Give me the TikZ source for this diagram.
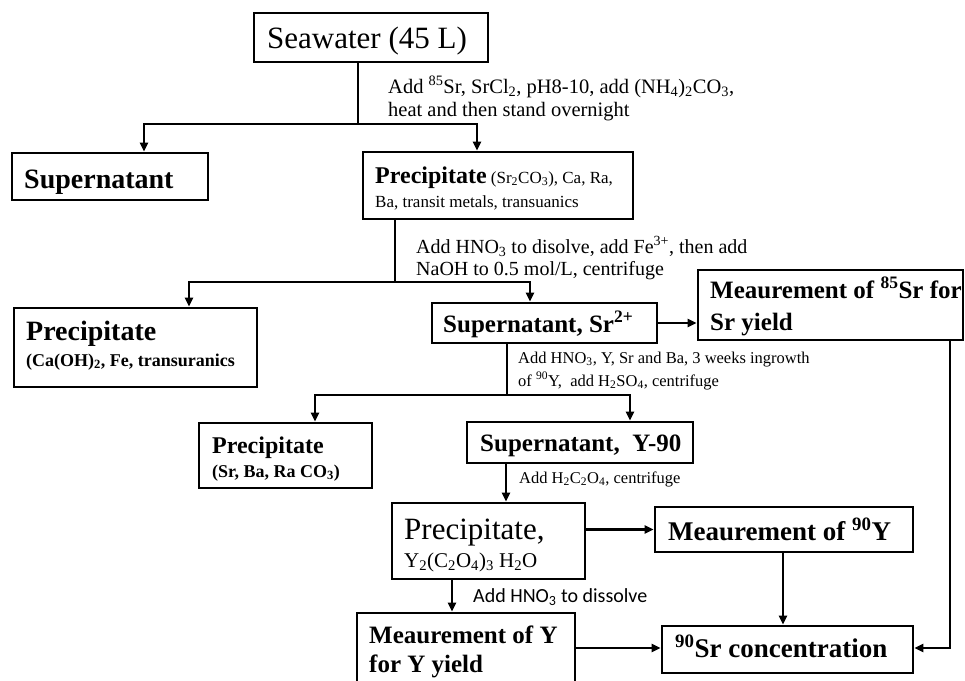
\documentclass[tikz,border=0pt]{standalone}
\usepackage{fontspec}
\setmainfont{Liberation Serif}
\newfontfamily\calfont{Carlito}
\usetikzlibrary{arrows.meta}
\newcommand{\fs}[1]{\fontsize{#1}{#1}\selectfont}
\tikzset{
  box/.style={draw, line width=2.7pt, inner sep=0pt},
  txt/.style={anchor=base west, inner sep=0pt},
  conn/.style={line width=2.2pt},
  arr/.style={line width=2.2pt, -{Triangle[length=9pt,width=8pt]}},
}
\begin{document}
\begin{tikzpicture}[x=1pt,y=-1pt]
\useasboundingbox (0,0) rectangle (965,680);
% boxes
\node[box, minimum width=234pt, minimum height=49pt] (sea) at (371,37.5) {};
\node[box, minimum width=196pt, minimum height=47pt] (sup1) at (110,176.5) {};
\node[box, minimum width=270pt, minimum height=67pt] (pre1) at (498,185.5) {};
\node[box, minimum width=243pt, minimum height=79pt] (pre2) at (135.5,347.5) {};
\node[box, minimum width=225pt, minimum height=40pt] (sup2) at (544.5,323) {};
\node[box, minimum width=265pt, minimum height=70pt] (mea1) at (830.5,305) {};
\node[box, minimum width=173pt, minimum height=65pt] (pre3) at (285.5,455.5) {};
\node[box, minimum width=226pt, minimum height=41pt] (sup3) at (580,442.5) {};
\node[box, minimum width=193pt, minimum height=76pt] (pre4) at (488.5,541) {};
\node[box, minimum width=258pt, minimum height=45pt] (mea2) at (784,529.5) {};
\node[box, minimum width=218pt, minimum height=77pt] (mea3) at (466,651.5) {};
\node[box, minimum width=251pt, minimum height=47pt] (conc) at (787.5,649.5) {};
% texts
\node[txt] (tsea) at (267,48) {\fs{31}Seawater (45 L)};
\node[txt] (l1a) at (388,93) {\fs{20.5}Add \textsuperscript{85}Sr, SrCl\textsubscript{2}, pH8-10, add (NH\textsubscript{4})\textsubscript{2}CO\textsubscript{3},};
\node[txt] (l1b) at (388,116) {\fs{20.5}heat and then stand overnight};
\node[txt] (tsup1) at (24,188) {\fs{28}\bfseries Supernatant};
\node[txt] (tpre1a) at (375,183) {\fs{24}\bfseries Precipitate\fs{17}\mdseries\ (Sr\textsubscript{2}CO\textsubscript{3}), Ca, Ra,};
\node[txt] (tpre1b) at (375,207) {\fs{17}Ba, transit metals, transuanics};
\node[txt] (l2a) at (416,253) {\fs{20}Add HNO\textsubscript{3} to disolve, add Fe\textsuperscript{3+}, then add};
\node[txt] (l2b) at (416,275) {\fs{20}NaOH to 0.5 mol/L, centrifuge};
\node[txt] (tpre2a) at (26,340) {\fs{28}\bfseries Precipitate};
\node[txt] (tpre2b) at (26,366) {\fs{18}\bfseries (Ca(OH)\textsubscript{2}, Fe, transuranics};
\node[txt] (tsup2) at (443,332) {\fs{25}\bfseries Supernatant, Sr\textsuperscript{2+}};
\node[txt] (tmea1a) at (710,298) {\fs{25}\bfseries Meaurement of \textsuperscript{85}Sr for};
\node[txt] (tmea1b) at (710,330) {\fs{25}\bfseries Sr yield};
\node[txt] (l3a) at (518,363) {\fs{16.5}Add HNO\textsubscript{3}, Y, Sr and Ba, 3 weeks ingrowth};
\node[txt] (l3b) at (518,386) {\fs{16.5}of \textsuperscript{90}Y,\ \ add H\textsubscript{2}SO\textsubscript{4}, centrifuge};
\node[txt] (tpre3a) at (212,453) {\fs{24}\bfseries Precipitate};
\node[txt] (tpre3b) at (212,477) {\fs{18}\bfseries (Sr, Ba, Ra CO\textsubscript{3})};
\node[txt] (tsup3) at (480,451) {\fs{25}\bfseries Supernatant,\ \ Y-90};
\node[txt] (l4) at (519,483) {\fs{16.5}Add H\textsubscript{2}C\textsubscript{2}O\textsubscript{4}, centrifuge};
\node[txt] (tpre4a) at (404,539) {\fs{31}Precipitate,};
\node[txt] (tpre4b) at (404,567) {\fs{21}Y\textsubscript{2}(C\textsubscript{2}O\textsubscript{4})\textsubscript{3} H\textsubscript{2}O};
\node[txt] (tmea2) at (668,540) {\fs{27}\bfseries Meaurement of \textsuperscript{90}Y};
\node[txt] (l5) at (473,602) {\fs{20}\calfont Add HNO\textsubscript{3} to dissolve};
\node[txt] (tmea3a) at (369,643) {\fs{25}\bfseries Meaurement of Y};
\node[txt] (tmea3b) at (369,672) {\fs{25}\bfseries for Y yield};
\node[txt] (tconc) at (675,657) {\fs{27}\bfseries \textsuperscript{90}Sr concentration};
% junction coordinates
\coordinate (j1) at (358,124);
\coordinate (j1l) at (144,124);
\coordinate (j1r) at (477,124);
\coordinate (j2) at (395,282);
\coordinate (j2l) at (189,282);
\coordinate (j2r) at (530,282);
\coordinate (j3) at (507,395);
\coordinate (j3l) at (315,395);
\coordinate (j3r) at (630,395);
\coordinate (x4) at (506,0);
\coordinate (x5) at (452,0);
\coordinate (x6) at (783,0);
\coordinate (x7) at (950,0);
\coordinate (y8) at (0,648);
% connectors
\draw[conn] (sea.south -| j1) -- (j1);
\draw[arr] (j1) -- (j1l) -- (sup1.north -| j1l);
\draw[arr] (j1) -- (j1r) -- (pre1.north -| j1r);
\draw[conn] (pre1.south -| j2) -- (j2);
\draw[arr] (j2) -- (j2l) -- (pre2.north -| j2l);
\draw[arr] (j2) -- (j2r) -- (sup2.north -| j2r);
\draw[arr] (sup2.east) -- (sup2.east -| mea1.west);
\draw[conn] (sup2.south -| j3) -- (j3);
\draw[arr] (j3) -- (j3l) -- (pre3.north -| j3l);
\draw[arr] (j3) -- (j3r) -- (sup3.north -| j3r);
\draw[arr] (sup3.south -| x4) -- (pre4.north -| x4);
\draw[arr] (pre4.east |- mea2.west) -- (mea2.west);
\draw[arr] (pre4.south -| x5) -- (mea3.north -| x5);
\draw[arr] (mea3.east |- y8) -- (conc.west |- y8);
\draw[arr] (mea2.south -| x6) -- (conc.north -| x6);
\draw[arr] (mea1.south -| x7) -- (x7 |- y8) -- (conc.east |- y8);
\end{tikzpicture}
\end{document}
